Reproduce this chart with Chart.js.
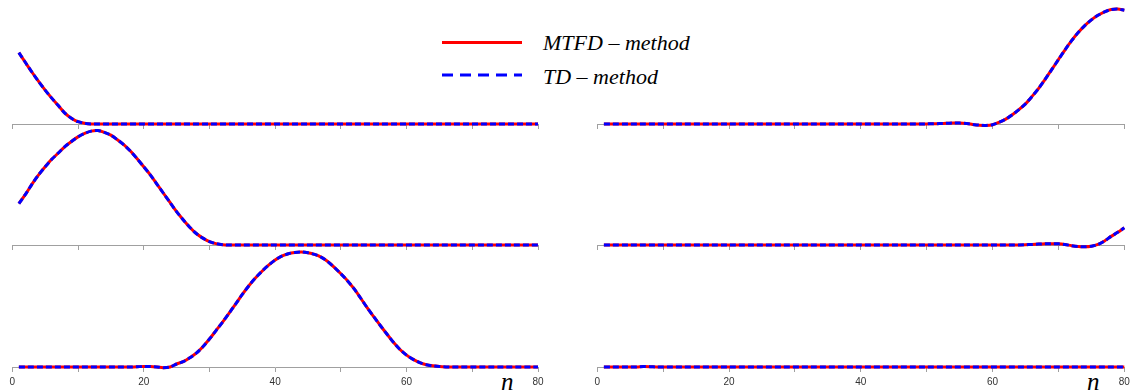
<!DOCTYPE html>
<html lang="en">
<head>
<meta charset="UTF-8">
<title>MTFD - method vs TD - method</title>
<script src="https://cdn.jsdelivr.net/npm/chart.js"></script>
<style>
  body { margin: 0; width: 1137px; height: 392px; background: #fff; position: relative; overflow: hidden; }
  canvas { position: absolute; }
  .lab { position: absolute; font-family: "Liberation Serif", "Times New Roman", serif; font-style: italic; color: #000; white-space: nowrap; }
  .leg { font-size: 22px; line-height: 22px; }
  .n { font-size: 25px; line-height: 25px; }
  #legLines { position: absolute; left: 440px; top: 30px; }
</style>
</head>
<body>
<svg id="legLines" width="90" height="60">
  <line x1="2" y1="12.5" x2="82" y2="12.5" stroke="#ff0000" stroke-width="3"/>
  <line x1="2" y1="45" x2="82" y2="45" stroke="#0000ff" stroke-width="3" stroke-dasharray="11 7"/>
</svg>
<div class="lab leg" style="left:543px; top:32px;">MTFD – method</div>
<div class="lab leg" style="left:543px; top:66px;">TD – method</div>
<div class="lab n" style="left:501px; top:369px;">n</div>
<div class="lab n" style="left:1087px; top:369px;">n</div>

<canvas id="p1" width="560" height="140" style="left:0px; top:4px;"></canvas>
<canvas id="p2" width="560" height="140" style="left:0px; top:125px;"></canvas>
<canvas id="p3" width="560" height="140" style="left:0px; top:247px;"></canvas>
<canvas id="p4" width="562" height="140" style="left:575px; top:4px;"></canvas>
<canvas id="p5" width="562" height="140" style="left:575px; top:125px;"></canvas>
<canvas id="p6" width="562" height="140" style="left:575px; top:247px;"></canvas>

<script>
// time step n
const steps = [
  1, 2, 3, 4, 5, 6, 7, 8, 9, 10,
  11, 12, 13, 14, 15, 16, 17, 18, 19, 20,
  21, 22, 23, 24, 25, 26, 27, 28, 29, 30,
  31, 32, 33, 34, 35, 36, 37, 38, 39, 40,
  41, 42, 43, 44, 45, 46, 47, 48, 49, 50,
  51, 52, 53, 54, 55, 56, 57, 58, 59, 60,
  61, 62, 63, 64, 65, 66, 67, 68, 69, 70,
  71, 72, 73, 74, 75, 76, 77, 78, 79, 80
];

const xTicks = [0, 20, 40, 60, 80];
const seriesNames = ['MTFD \u2013 method', 'TD \u2013 method'];

// both methods give the same curve in every panel
const leftTop = [
  0.62, 0.535, 0.45, 0.37, 0.295, 0.225, 0.16, 0.095, 0.05, 0.02,
  0.006, 0, 0, 0, 0, 0, 0, 0, 0, 0,
  0, 0, 0, 0, 0, 0, 0, 0, 0, 0,
  0, 0, 0, 0, 0, 0, 0, 0, 0, 0,
  0, 0, 0, 0, 0, 0, 0, 0, 0, 0,
  0, 0, 0, 0, 0, 0, 0, 0, 0, 0,
  0, 0, 0, 0, 0, 0, 0, 0, 0, 0,
  0, 0, 0, 0, 0, 0, 0, 0, 0, 0
];
const leftMid = [
  0.36, 0.44, 0.53, 0.61, 0.68, 0.745, 0.80, 0.855, 0.90, 0.94,
  0.97, 0.99, 0.995, 0.98, 0.955, 0.915, 0.87, 0.815, 0.75, 0.68,
  0.61, 0.53, 0.45, 0.37, 0.29, 0.22, 0.155, 0.10, 0.06, 0.03,
  0.012, 0.003, 0, 0, 0, 0, 0, 0, 0, 0,
  0, 0, 0, 0, 0, 0, 0, 0, 0, 0,
  0, 0, 0, 0, 0, 0, 0, 0, 0, 0,
  0, 0, 0, 0, 0, 0, 0, 0, 0, 0,
  0, 0, 0, 0, 0, 0, 0, 0, 0, 0
];
const leftBot = [
  0, 0, 0, 0, 0, 0, 0, 0, 0, 0,
  0, 0, 0, 0, 0, 0, 0, 0, 0.002, 0.005,
  0.004, 0, -0.006, 0, 0.026, 0.046, 0.08, 0.12, 0.176, 0.243,
  0.317, 0.391, 0.469, 0.549, 0.631, 0.707, 0.774, 0.833, 0.885, 0.93,
  0.964, 0.985, 0.996, 1.0, 0.993, 0.979, 0.955, 0.917, 0.867, 0.811,
  0.751, 0.681, 0.60, 0.516, 0.438, 0.361, 0.287, 0.215, 0.152, 0.103,
  0.066, 0.038, 0.02, 0.01, 0.004, 0.001, 0, 0, 0, 0,
  0, 0, 0, 0, 0, 0, 0, 0, 0, 0
];
const rightTop = [
  0, 0, 0, 0, 0, 0, 0, 0, 0, 0,
  0, 0, 0, 0, 0, 0, 0, 0, 0, 0,
  0, 0, 0, 0, 0, 0, 0, 0, 0, 0,
  0, 0, 0, 0, 0, 0, 0, 0, 0, 0,
  0, 0, 0, 0, 0, 0, 0, 0, 0, 0.001,
  0.002, 0.004, 0.006, 0.008, 0.008, 0.004, -0.004, -0.01, -0.012, -0.006,
  0.015, 0.042, 0.08, 0.125, 0.175, 0.24, 0.31, 0.39, 0.475, 0.56,
  0.645, 0.725, 0.795, 0.855, 0.905, 0.945, 0.975, 0.995, 1.0, 0.99
];
const rightMid = [
  0, 0, 0, 0, 0, 0, 0, 0, 0, 0,
  0, 0, 0, 0, 0, 0, 0, 0, 0, 0,
  0, 0, 0, 0, 0, 0, 0, 0, 0, 0,
  0, 0, 0, 0, 0, 0, 0, 0, 0, 0,
  0, 0, 0, 0, 0, 0, 0, 0, 0, 0,
  0, 0, 0, 0, 0, 0, 0, 0, 0, 0,
  0, 0, 0, 0, 0.002, 0.005, 0.008, 0.01, 0.011, 0.01,
  0.004, -0.006, -0.013, -0.015, -0.01, 0.005, 0.035, 0.075, 0.11, 0.15
];
const rightBot = [
  0, 0, 0, 0, 0, 0, 0.004, 0.003, 0, 0,
  0, 0, 0, 0, 0, 0, 0, 0, 0, 0,
  0, 0, 0, 0, 0, 0, 0, 0, 0, 0,
  0, 0, 0, 0, 0, 0, 0, 0, 0, 0,
  0, 0, 0, 0, 0, 0, 0, 0, 0, 0,
  0, 0, 0, 0, 0, 0, 0, 0, 0, 0,
  0, 0, 0, 0, 0, 0, 0, 0, 0, 0,
  0, 0, 0, 0, 0, 0, 0, 0, 0, 0
];

const axisGray = '#a0a0a0';

function toPoints(vals) {
  return steps.map((n, i) => ({ x: n, y: vals[i] }));
}

function makePanel(id, vals, showLabels, padLeft, padRight) {
  const ctx = document.getElementById(id).getContext('2d');
  new Chart(ctx, {
    type: 'line',
    data: {
      datasets: [
        {
          label: seriesNames[0],
          data: toPoints(vals),
          borderColor: '#ff0000',
          borderWidth: 3,
          pointRadius: 0,
          tension: 0.3,
          clip: false,
          order: 2
        },
        {
          label: seriesNames[1],
          data: toPoints(vals),
          borderColor: '#0000ff',
          borderWidth: 3,
          borderDash: [6, 3],
          pointRadius: 0,
          tension: 0.3,
          clip: false,
          order: 1
        }
      ]
    },
    options: {
      responsive: false,
      animation: false,
      layout: { padding: { left: padLeft, right: padRight, top: 0, bottom: 0 } },
      plugins: { legend: { display: false }, tooltip: { enabled: false } },
      scales: {
        x: {
          type: 'linear',
          min: 0,
          max: 80,
          afterFit: s => { s.height = 20; },
          border: { display: true, color: axisGray, width: 1 },
          grid: { display: true, drawOnChartArea: false, drawTicks: true, tickLength: 5, color: axisGray },
          ticks: {
            stepSize: 10,
            autoSkip: false,
            maxRotation: 0,
            padding: 4,
            color: '#333',
            font: { family: "'Liberation Sans Narrow', 'Liberation Sans', sans-serif", size: 10 },
            callback: v => (showLabels && xTicks.includes(v)) ? v : ''
          }
        },
        y: { display: false, min: 0, max: 1.0435 }
      }
    }
  });
}

makePanel('p1', leftTop, false, 12.3, 22);
makePanel('p2', leftMid, false, 12.3, 22);
makePanel('p3', leftBot, true, 12.3, 22);
makePanel('p4', rightTop, false, 22.3, 12.7);
makePanel('p5', rightMid, false, 22.3, 12.7);
makePanel('p6', rightBot, true, 22.3, 12.7);
</script>
</body>
</html>
